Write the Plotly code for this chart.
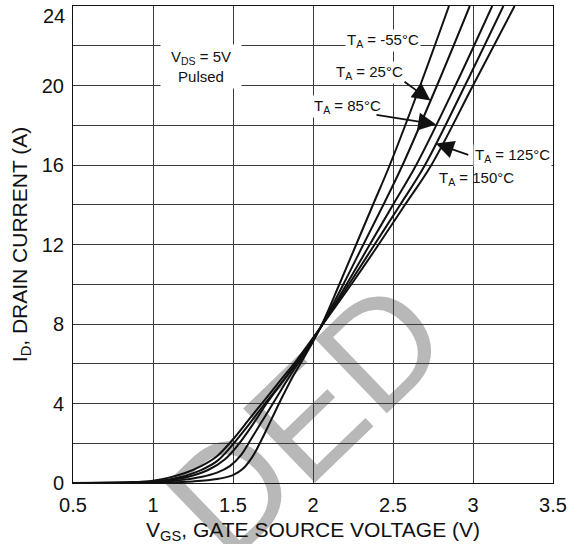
import numpy as np
import plotly.graph_objects as go

# Transfer characteristics: drain current vs gate-source voltage at several ambient temperatures
temps = ["-55", "25", "85", "125", "150"]

vgs_m55 = [0.5, 0.9, 1.1, 1.25, 1.4, 1.5, 1.56, 1.62, 1.68, 1.74, 1.8, 1.87, 1.95, 2.045, 2.165, 2.27, 2.375, 2.48, 2.67, 2.85]
id_m55 = [0, 0.01, 0.03, 0.08, 0.2, 0.4, 0.7, 1.3, 2.2, 3.2, 4.2, 5.3, 6.4, 7.8, 10, 12, 14, 16, 20, 24]

vgs_25 = [0.5, 0.85, 1.0, 1.1, 1.2, 1.3, 1.4, 1.48, 1.55, 1.62, 1.7, 1.78, 1.86, 1.94, 2.045, 2.19, 2.315, 2.44, 2.56, 2.775, 2.98]
id_25 = [0, 0.01, 0.04, 0.09, 0.17, 0.3, 0.52, 0.85, 1.4, 2.3, 3.35, 4.4, 5.45, 6.4, 7.8, 10, 12, 14, 16, 20, 24]

vgs_85 = [0.5, 0.8, 0.95, 1.05, 1.15, 1.25, 1.35, 1.45, 1.53, 1.62, 1.71, 1.8, 1.9, 2.045, 2.21, 2.355, 2.5, 2.645, 2.89, 3.12]
id_85 = [0, 0.01, 0.04, 0.1, 0.2, 0.38, 0.68, 1.2, 1.9, 2.9, 4.0, 5.0, 6.1, 7.8, 10, 12, 14, 16, 20, 24]

vgs_125 = [0.5, 0.75, 0.9, 1.0, 1.1, 1.2, 1.3, 1.4, 1.5, 1.6, 1.7, 1.8, 1.9, 2.045, 2.225, 2.385, 2.545, 2.7, 2.95, 3.19]
id_125 = [0, 0.01, 0.03, 0.08, 0.18, 0.36, 0.65, 1.1, 1.95, 2.95, 4.0, 5.0, 6.05, 7.8, 10, 12, 14, 16, 20, 24]

vgs_150 = [0.5, 0.7, 0.85, 1.0, 1.1, 1.2, 1.3, 1.4, 1.5, 1.6, 1.7, 1.8, 1.9, 2.045, 2.24, 2.41, 2.575, 2.74, 3.0, 3.26]
id_150 = [0, 0.01, 0.04, 0.12, 0.27, 0.5, 0.85, 1.35, 2.2, 3.2, 4.2, 5.2, 6.2, 7.8, 10, 12, 14, 16, 20, 24]

x_ticks = [0.5, 1, 1.5, 2, 2.5, 3, 3.5]
x_tick_text = ["0.5", "1", "1.5", "2", "2.5", "3", "3.5"]
y_ticks = [0, 4, 8, 12, 16, 20, 24]
y_tick_text = ["0", "4", "8", "12", "16", "20", "24"]

curves = {
    "-55": (vgs_m55, id_m55),
    "25": (vgs_25, id_25),
    "85": (vgs_85, id_85),
    "125": (vgs_125, id_125),
    "150": (vgs_150, id_150),
}

FONT = "Liberation Sans, Arial, sans-serif"
INK = "#111111"
GRID = "#3a3a3a"

fig = go.Figure()
for t in temps:
    v, i = curves[t]
    fig.add_trace(go.Scatter(
        x=v, y=i, mode="lines", name=f"{t}°C",
        line=dict(color=INK, width=2, shape="spline", smoothing=1.0),
        showlegend=False, hoverinfo="skip",
    ))


def on_curve(t, current):
    v, i = curves[t]
    return float(np.interp(current, i, v))


annotations = []

# the top tick label sits just inside the frame
annotations.append(dict(
    x=0, y=y_ticks[-1], xref="paper", yref="y", xanchor="right", yanchor="top",
    xshift=-6, yshift=3, showarrow=False, text=y_tick_text[-1],
    font=dict(family=FONT, size=20, color=INK),
))

# test-condition box
annotations.append(dict(
    x=1.3, y=20.94, xref="x", yref="y", showarrow=False,
    text="V<sub>DS</sub> = 5V<br>Pulsed", align="center",
    font=dict(family=FONT, size=15, color=INK),
    bgcolor="white", width=80, height=43, borderpad=0,
))

# temperature labels
label_pos = {
    "-55": (2.4375, 22.24, True),
    "25": (2.35, 20.64, True),
    "85": (2.2125, 18.94, True),
    "125": (3.244, 16.48, True),
    "150": (3.019, 15.33, False),
}
for t, (lx, ly, boxed) in label_pos.items():
    annotations.append(dict(
        x=lx, y=ly, xref="x", yref="y", showarrow=False,
        text=f"T<sub>A</sub> = {t}°C",
        font=dict(family=FONT, size=15, color=INK),
        bgcolor="white" if boxed else "rgba(0,0,0,0)", borderpad=1,
    ))

# pointer arrows: (curve, tail x, tail y, tip current)
pointers = [("25", 2.5625, 20.24, 19.24), ("85", 2.3875, 18.54, 18.04), ("125", 2.98, 16.48, 17.08)]
for t, tx, ty, tip_i in pointers:
    annotations.append(dict(
        x=on_curve(t, tip_i), y=tip_i, xref="x", yref="y",
        ax=tx, ay=ty, axref="x", ayref="y",
        text="", showarrow=True, arrowhead=2, arrowsize=2.0,
        arrowwidth=1.8, arrowcolor=INK, standoff=0,
    ))

fig.update_layout(
    width=572, height=544,
    margin=dict(l=73, r=19, t=5, b=60),
    paper_bgcolor="white", plot_bgcolor="white",
    font=dict(family=FONT, size=20, color=INK),
    annotations=annotations,
    shapes=[dict(
        type="rect", xref="paper", yref="paper",
        x0=0.455, x1=0.475, y0=0.145, y1=0.165,
        line=dict(width=0), fillcolor="rgba(0,0,0,0)", layer="below",
        label=dict(text="DED", textangle=-44, textposition="middle center",
                   font=dict(family=FONT, size=150, color="#b8b8b8")),
    )],
)

fig.update_xaxes(
    range=[0.5, 3.5], tickvals=x_ticks, ticktext=x_tick_text,
    showgrid=True, gridcolor=GRID, gridwidth=1,
    showline=True, linecolor=INK, linewidth=1, mirror=True,
    ticks="", ticklabelstandoff=4, zeroline=False,
    tickfont=dict(family=FONT, size=20, color=INK),
    title=dict(text="V<sub>GS</sub>, GATE SOURCE VOLTAGE (V)",
               font=dict(family=FONT, size=21, color=INK), standoff=8),
)
fig.update_yaxes(
    range=[0, 24], tickvals=y_ticks[:-1], ticktext=y_tick_text[:-1],
    showgrid=True, gridcolor=GRID, gridwidth=1,
    minor=dict(dtick=2, tick0=0, showgrid=True, gridcolor=GRID, gridwidth=1),
    showline=True, linecolor=INK, linewidth=1, mirror=True,
    ticks="", ticklabelstandoff=4, zeroline=False,
    tickfont=dict(family=FONT, size=20, color=INK),
    title=dict(text="I<sub>D</sub>, DRAIN CURRENT (A)",
               font=dict(family=FONT, size=21, color=INK), standoff=8),
)

fig.write_html("out.html")
